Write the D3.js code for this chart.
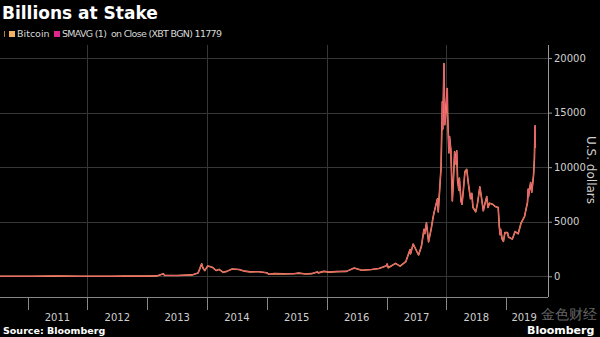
<!DOCTYPE html>
<html>
<head>
<meta charset="utf-8">
<script src="https://cdn.jsdelivr.net/npm/d3@7/dist/d3.min.js"></script>
<style>
  html, body { margin: 0; padding: 0; background: #000; }
  svg { display: block; }
  text { font-family: "DejaVu Sans", "Liberation Sans", sans-serif; }
</style>
</head>
<body>
<svg id="chart" width="600" height="337"></svg>
<script>
// Bitcoin close, USD (XBT BGN)
const dates = [
  "2010-07-17","2010-10-01","2011-02-01","2011-06-08","2011-08-01","2011-11-18",
  "2012-01-01","2012-06-01","2012-08-16","2012-12-31",
  "2013-03-01","2013-04-09","2013-04-16","2013-07-05","2013-10-01","2013-11-07",
  "2013-11-18","2013-11-29","2013-12-07","2013-12-18",
  "2014-01-05","2014-02-01","2014-02-25","2014-03-15","2014-04-10","2014-05-01",
  "2014-06-03","2014-07-15","2014-08-18","2014-09-22","2014-11-12","2014-12-31",
  "2015-01-14","2015-02-15","2015-04-15","2015-06-15","2015-07-15","2015-08-25",
  "2015-10-01","2015-11-04","2015-11-11","2015-12-15",
  "2016-01-15","2016-03-01","2016-05-01","2016-06-17","2016-08-02","2016-10-01",
  "2016-11-15","2016-12-31",
  "2017-01-04","2017-01-11","2017-02-24","2017-03-24","2017-04-28","2017-05-24",
  "2017-05-27","2017-06-12","2017-07-15","2017-08-01","2017-08-17","2017-08-22",
  "2017-09-01","2017-09-14","2017-09-30","2017-10-12","2017-10-20","2017-11-07",
  "2017-11-12","2017-11-29","2017-12-07","2017-12-10","2017-12-17","2017-12-22",
  "2017-12-28",
  "2018-01-06","2018-01-08","2018-01-16","2018-01-20","2018-01-28","2018-02-06",
  "2018-02-12","2018-02-20","2018-02-27","2018-03-05","2018-03-10","2018-03-18",
  "2018-03-21","2018-03-31","2018-04-06","2018-04-15","2018-04-24","2018-05-05",
  "2018-05-15","2018-05-28","2018-06-05","2018-06-12","2018-06-29","2018-07-10",
  "2018-07-24","2018-08-05","2018-08-14","2018-08-25","2018-09-04","2018-09-12",
  "2018-09-21","2018-10-10","2018-10-25","2018-11-13","2018-11-20","2018-11-25",
  "2018-11-28","2018-12-07","2018-12-15","2018-12-24",
  "2019-01-09","2019-01-15","2019-02-07","2019-02-24","2019-03-15","2019-04-02",
  "2019-04-23","2019-05-11","2019-05-15","2019-05-17","2019-05-30","2019-06-06",
  "2019-06-17","2019-06-22","2019-06-26","2019-06-27"
];
const closes = [
  0.05,0.06,1,30,13,2.3,
  5,5.3,13,13.5,
  34,230,80,70,125,300,
  700,1150,760,520,
  950,830,530,630,360,450,
  660,620,470,400,420,320,
  180,240,220,235,290,210,
  240,400,310,450,
  380,430,450,750,550,615,
  710,960,
  1130,780,1180,930,1340,2450,
  2050,2960,1950,2720,4300,3900,
  4900,3150,4340,5450,6000,7100,
  5900,9900,16000,13500,19500,13900,
  15000,
  17200,15000,11300,12800,11600,6900,
  8600,11400,10300,11500,8800,7900,
  9000,6900,6600,8000,9600,9800,
  8500,7100,7600,6300,5900,6700,
  8200,7000,6000,6700,7300,6300,
  6700,6600,6400,6300,4500,3800,
  4300,3400,3200,4000,
  4000,3600,3400,4100,3900,4900,
  5500,6800,8000,7300,8600,7700,
  9300,10800,13800,11779
];

const yearLabels = ["2011","2012","2013","2014","2015","2016","2017","2018","2019"];
const gridYears = ["2012","2014","2016","2018"];
const yTicks = [0, 5000, 10000, 15000, 20000];
const lastValue = closes[closes.length - 1];

const parse = d3.timeParse("%Y-%m-%d");
const data = dates.map((d, i) => ({ date: parse(d), value: closes[i] }));

const svg = d3.select("#chart");
const plotLeft = 0, plotRight = 548, plotTop = 45, plotBottom = 297;

const x = d3.scaleTime()
  .domain([parse("2010-07-17"), parse("2019-09-13")])
  .range([plotLeft, plotRight]);
const y = d3.scaleLinear()
  .domain([-1900, 21200])
  .range([plotBottom, plotTop]);

// horizontal gridlines
svg.append("g").selectAll("line").data(yTicks).join("line")
  .attr("x1", plotLeft).attr("x2", plotRight)
  .attr("y1", d => Math.round(y(d)) + 0.5).attr("y2", d => Math.round(y(d)) + 0.5)
  .attr("stroke", "#363636").attr("stroke-width", 1);

// vertical gridlines every other year
svg.append("g").selectAll("line").data(gridYears).join("line")
  .attr("x1", d => Math.round(x(parse(d + "-01-01"))) + 0.5)
  .attr("x2", d => Math.round(x(parse(d + "-01-01"))) + 0.5)
  .attr("y1", plotTop).attr("y2", plotBottom)
  .attr("stroke", "#363636").attr("stroke-width", 1);

// price lines: Bitcoin underneath, the 1-period moving average on top
const line = d3.line().x(d => x(d.date)).y(d => y(d.value));
svg.append("path").datum(data)
  .attr("fill", "none").attr("stroke", "#f2a65a").attr("stroke-width", 1.6)
  .attr("stroke-linejoin", "round").attr("d", line);
svg.append("path").datum(data)
  .attr("fill", "none").attr("stroke", "#e8576f").attr("stroke-width", 1)
  .attr("stroke-linejoin", "round").attr("d", line);

// bottom time axis: ticks at year boundaries, labels mid-year
const yearStarts = yearLabels.map(d => parse(d + "-01-01"));
svg.append("line")
  .attr("x1", plotLeft).attr("x2", plotRight)
  .attr("y1", plotBottom + 0.5).attr("y2", plotBottom + 0.5)
  .attr("stroke", "#888");
svg.append("g").selectAll("line").data(yearStarts).join("line")
  .attr("x1", d => Math.round(x(d)) + 0.5).attr("x2", d => Math.round(x(d)) + 0.5)
  .attr("y1", plotBottom).attr("y2", plotBottom + 13)
  .attr("stroke", "#888");
svg.append("g").selectAll("text").data(yearLabels).join("text")
  .attr("x", (d, i) => {
    const s = x(yearStarts[i]);
    const e = Math.min(x(parse((+d + 1) + "-01-01")), plotRight);
    return (s + e) / 2 - (i === yearLabels.length - 1 ? 3 : 0);
  })
  .attr("y", 321)
  .attr("text-anchor", "middle")
  .attr("fill", "#cfcfcf").attr("font-size", 10)
  .text(d => d);

// right value axis
const yAxis = d3.axisRight(y).tickValues(yTicks).tickSize(4).tickPadding(2).tickFormat(d3.format("d"));
const gy = svg.append("g").attr("transform", `translate(${plotRight},0)`).call(yAxis);
gy.select(".domain").attr("stroke", "#999").attr("d", `M0.5,${plotTop}V${plotBottom}`);
gy.selectAll(".tick line").attr("stroke", "#999");
gy.selectAll(".tick text").attr("fill", "#d0d0d0").attr("font-size", 10)
  .attr("font-family", "DejaVu Sans, sans-serif");

svg.append("text")
  .attr("transform", "translate(587,170) rotate(90)")
  .attr("text-anchor", "middle")
  .attr("fill", "#d0d0d0").attr("font-size", 12)
  .text("U.S. dollars");

// title
svg.append("text")
  .attr("x", 2).attr("y", 19)
  .attr("fill", "#fff").attr("font-size", 17).attr("font-weight", "bold")
  .text("Billions at Stake");

// legend
const lg = svg.append("g").attr("transform", "translate(0,35)");
lg.append("rect").attr("x", 4).attr("y", -4).attr("width", 1).attr("height", 6).attr("fill", "#b07a40");
lg.append("rect").attr("x", 9).attr("y", -4).attr("width", 6).attr("height", 6).attr("fill", "#f2b260");
lg.append("text").attr("x", 17).attr("y", 2).attr("fill", "#d8d8d8").attr("font-size", 9.5).text("Bitcoin");
lg.append("rect").attr("x", 54).attr("y", -4).attr("width", 6).attr("height", 6).attr("fill", "#e0268c");
lg.append("text").attr("x", 62).attr("y", 2).attr("fill", "#d8d8d8").attr("font-size", 9.5)
  .attr("xml:space", "preserve")
  .attr("textLength", 160).attr("lengthAdjust", "spacing")
  .text("SMAVG (1)  on Close (XBT BGN) " + lastValue);

// footer
svg.append("text")
  .attr("x", 3).attr("y", 334)
  .attr("fill", "#fff").attr("font-size", 9.5).attr("font-weight", "bold")
  .text("Source: Bloomberg");

svg.append("text")
  .attr("x", 541).attr("y", 319)
  .attr("fill", "#fff").attr("fill-opacity", 0.4).attr("font-size", 14)
  .attr("font-family", "Noto Sans CJK SC, sans-serif")
  .text("金色财经");
svg.append("text")
  .attr("x", 527).attr("y", 334)
  .attr("fill", "#fff").attr("font-size", 11).attr("font-weight", "bold")
  .attr("font-family", "Liberation Sans, Arial, sans-serif")
  .text("Bloomberg");
</script>
</body>
</html>
